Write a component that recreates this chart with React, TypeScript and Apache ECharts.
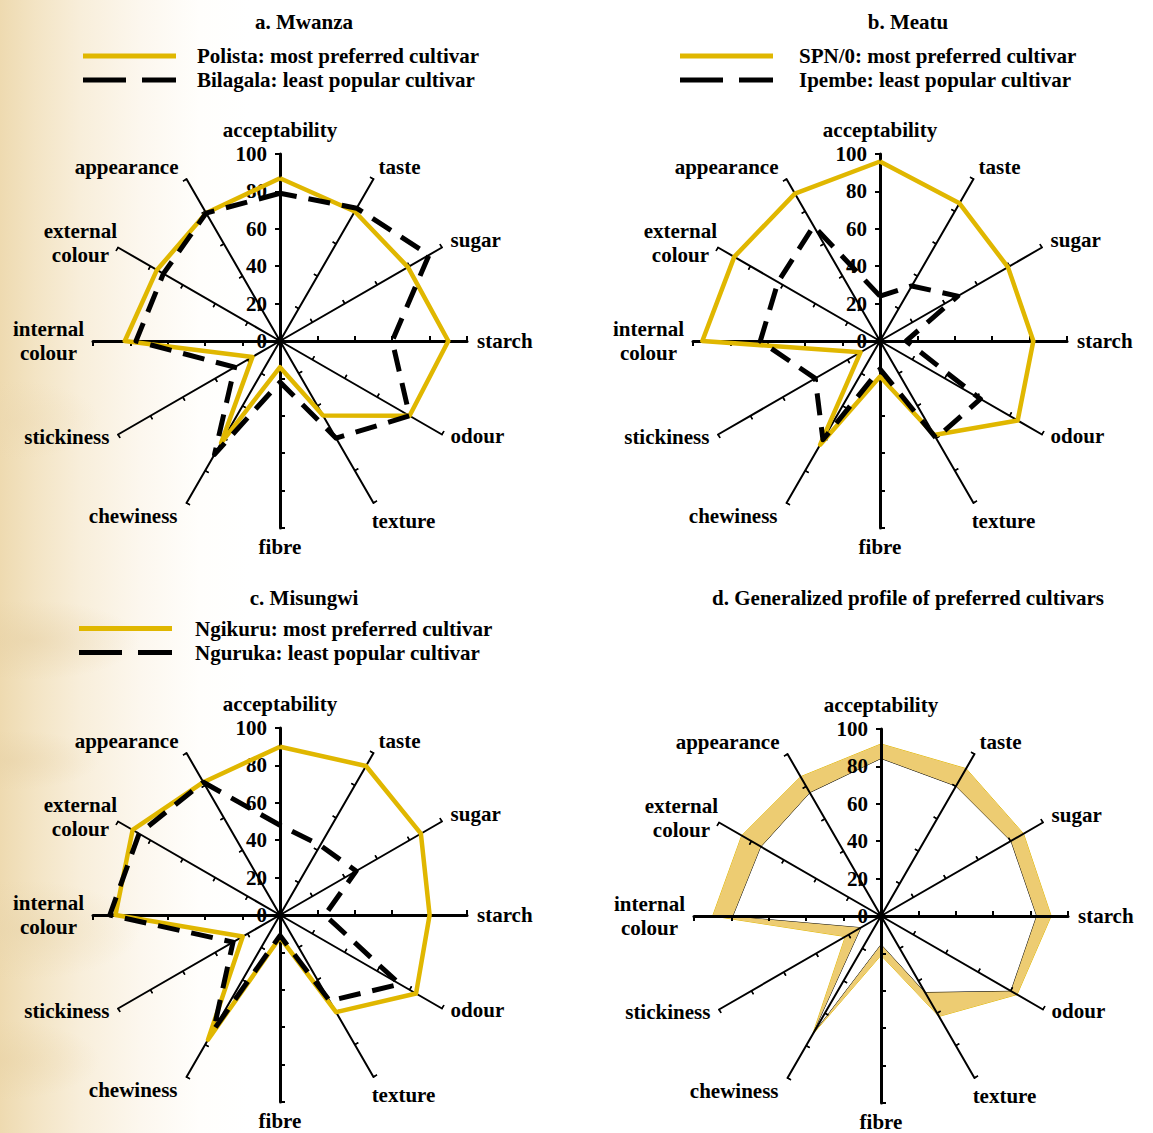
import React, { useEffect, useRef } from 'react';
import * as echarts from 'echarts';

// ---------- data ----------
// Axes listed clockwise starting at the top
const axisNames = [
  'acceptability', 'taste', 'sugar', 'starch', 'odour', 'texture', 'fibre',
  'chewiness', 'stickiness', 'internal\ncolour', 'external\ncolour', 'appearance',
];
const AXIS_MIN = 0;
const AXIS_MAX = 100;
const AXIS_SPLITS = 5; // ticks 0, 20, 40, 60, 80, 100

const panelTitles = [
  'a. Mwanza',
  'b. Meatu',
  'c. Misungwi',
  'd. Generalized profile of preferred cultivars',
];
const preferredNames = [
  'Polista: most preferred cultivar',
  'SPN/0: most preferred cultivar',
  'Ngikuru: most preferred cultivar',
];
const leastNames = [
  'Bilagala: least popular cultivar',
  'Ipembe: least popular cultivar',
  'Nguruka: least popular cultivar',
];

// values in clockwise axis order
const mwanzaPolista = [87, 80, 79, 90, 80, 46, 14, 63, 17, 83, 76, 79];
const mwanzaBilagala = [79, 82, 92, 60, 80, 60, 22, 70, 28, 77, 72, 79];
const meatuSpn0 = [96, 85, 79, 82, 85, 58, 19, 64, 12, 95, 90, 91];
const meatuIpembe = [24, 34, 48, 14, 62, 60, 15, 61, 40, 64, 63, 71];
const misungwiNgikuru = [90, 92, 87, 80, 84, 60, 12, 77, 23, 88, 91, 82];
const misungwiNguruka = [48, 43, 47, 24, 74, 53, 11, 71, 29, 91, 87, 82];
const generalUpper = [92, 91, 88, 91, 84, 62, 21, 73, 22, 90, 86, 86];
const generalLower = [84, 80, 80, 83, 80, 47, 15, 72, 12, 79, 74, 76];

// ---------- style / layout ----------
const SERIF = '"Liberation Serif", "Times New Roman", Times, serif';
const YELLOW = '#E0B700';
const BAND = '#EDCC72';
const R = 187;
const LH = 21;
const centers: [number, number][] = [[280, 341], [880, 341], [280, 915], [881, 916]];
const titleCenters: [number, number][] = [[304, 11], [908, 11], [304, 587], [908, 587]];
const legendPos: [number, number][] = [[83, 45.5], [680, 45.5], [79, 618]];
const legendTextPad = [16, 21, 18];

const SOLID_ICON = 'path://M0,0H93V5H0Z';
const DASH_ICON = 'path://M0,0H43V5H0Z M59,0H93V5H59Z';

const mainAxes = new Set(['acceptability', 'starch', 'fibre', 'internal\ncolour']);
const up = (d: number, right = 0) => ({ verticalAlign: 'bottom', padding: [0, right, d - LH / 2, 0] });
const down = (d: number, right = 0, left = 0) => ({ verticalAlign: 'top', padding: [d - LH / 2, right, 0, left] });
const nameAdjust: Record<string, any> = {
  acceptability: { padding: [0, 0, 3, 0] },
  taste: up(3),
  sugar: up(3),
  odour: up(4),
  texture: { align: 'center', ...down(9, 0, 50) },
  fibre: { padding: [-2, 0, 0, 0] },
  chewiness: down(4, 4),
  stickiness: up(3),
  'internal\ncolour': { align: 'center', lineHeight: 24, padding: [0, 69, 0, 0] },
  'external\ncolour': { align: 'center', lineHeight: 24, padding: [0, 58, 0, 0] },
  appearance: up(3, 3),
};

// ECharts places radar indicators counter-clockwise
function toCcw<T>(arr: T[]): T[] {
  return [arr[0], ...arr.slice(1).reverse()];
}

function buildIndicators(withLabels: boolean) {
  return toCcw(axisNames).map((name) => {
    const main = mainAxes.has(name);
    const ind: any = {
      name,
      min: AXIS_MIN,
      max: AXIS_MAX,
      axisLine: { lineStyle: { width: main ? 3 : 2 } },
      axisTick: { length: main ? 5 : 4, lineStyle: { width: main ? 2 : 1.4 } },
    };
    if (nameAdjust[name]) ind.nameTextStyle = nameAdjust[name];
    if (withLabels && name === 'acceptability') ind.axisLabel = { show: true };
    return ind;
  });
}

function buildRadar(center: [number, number], main: boolean, z: number) {
  return {
    center,
    radius: R,
    startAngle: 90,
    splitNumber: AXIS_SPLITS,
    shape: 'polygon',
    z,
    axisNameGap: 10,
    axisName: {
      show: main,
      color: '#000',
      fontFamily: SERIF,
      fontWeight: 'bold',
      fontSize: 21,
      lineHeight: LH,
    },
    splitLine: { show: false },
    splitArea: { show: false },
    axisLine: { show: main, lineStyle: { color: '#000', width: 2 } },
    axisTick: { show: true, inside: !main, length: 4, lineStyle: { color: '#000', width: 1.4 } },
    axisLabel: {
      show: false,
      margin: 13,
      color: '#000',
      fontFamily: SERIF,
      fontWeight: 'bold',
      fontSize: 21,
    },
    indicator: buildIndicators(main),
  };
}

function pairSeries(radarIndex: number, prefName: string, pref: number[], leastName: string, least: number[]) {
  return {
    type: 'radar',
    radarIndex,
    symbol: 'none',
    silent: true,
    z: 2,
    data: [
      {
        name: prefName,
        value: toCcw(pref),
        itemStyle: { color: YELLOW },
        lineStyle: { color: YELLOW, width: 4.5, type: 'solid' },
      },
      {
        name: leastName,
        value: toCcw(least),
        itemStyle: { color: '#000' },
        lineStyle: { color: '#000', width: 5, type: [22, 12] },
      },
    ],
  };
}

function buildOption() {
  const radars: any[] = [];
  centers.forEach((c, i) => {
    const z = i === 3 ? 3 : 1;
    radars.push(buildRadar(c, true, z));
    radars.push(buildRadar(c, false, z));
  });

  const series: any[] = [
    pairSeries(0, preferredNames[0], mwanzaPolista, leastNames[0], mwanzaBilagala),
    pairSeries(2, preferredNames[1], meatuSpn0, leastNames[1], meatuIpembe),
    pairSeries(4, preferredNames[2], misungwiNgikuru, leastNames[2], misungwiNguruka),
    {
      type: 'radar',
      radarIndex: 6,
      symbol: 'none',
      silent: true,
      z: 2,
      data: [
        {
          name: 'upper',
          value: toCcw(generalUpper),
          itemStyle: { color: YELLOW },
          lineStyle: { color: YELLOW, width: 1 },
          areaStyle: { color: BAND, opacity: 1 },
        },
        {
          name: 'lower',
          value: toCcw(generalLower),
          itemStyle: { color: '#000' },
          lineStyle: { color: '#000', width: 1 },
          areaStyle: { color: '#ffffff', opacity: 1 },
        },
      ],
    },
  ];

  const titles = panelTitles.map((t, i) => ({
    text: t,
    left: titleCenters[i][0],
    top: titleCenters[i][1],
    textAlign: 'center',
    padding: 0,
    textStyle: { fontFamily: SERIF, fontWeight: 'bold', fontSize: 21, color: '#000' },
  }));

  const legends = legendPos.map((p, i) => ({
    orient: 'vertical',
    left: p[0],
    top: p[1],
    padding: 0,
    itemWidth: 93,
    itemHeight: 5,
    itemGap: 3,
    selectedMode: false,
    itemStyle: { borderWidth: 0 },
    textStyle: {
      fontFamily: SERIF,
      fontWeight: 'bold',
      fontSize: 21,
      lineHeight: 21,
      color: '#000',
      padding: [0, 0, 0, legendTextPad[i]],
    },
    data: [
      { name: preferredNames[i], icon: SOLID_ICON, itemStyle: { color: YELLOW, borderWidth: 0 } },
      { name: leastNames[i], icon: DASH_ICON, itemStyle: { color: '#000', borderWidth: 0 } },
    ],
  }));

  return {
    animation: false,
    backgroundColor: 'transparent',
    title: titles,
    legend: legends,
    radar: radars,
    series,
  };
}

export default function App() {
  const ref = useRef<HTMLDivElement>(null);
  useEffect(() => {
    document.body.style.margin = '0';
    if (!ref.current) return;
    const chart = echarts.init(ref.current, undefined, { renderer: 'svg' });
    chart.setOption(buildOption() as any);
    return () => chart.dispose();
  }, []);

  const bg = [
    'radial-gradient(ellipse 110px 40px at 30px 640px, rgba(228,205,160,0.45), rgba(228,205,160,0))',
    'radial-gradient(ellipse 90px 30px at 10px 760px, rgba(230,208,165,0.45), rgba(230,208,165,0))',
    'radial-gradient(ellipse 120px 50px at 20px 930px, rgba(232,212,170,0.5), rgba(232,212,170,0))',
    'radial-gradient(ellipse 100px 40px at 0px 1060px, rgba(232,210,165,0.5), rgba(232,210,165,0))',
    'radial-gradient(ellipse 90px 40px at 10px 420px, rgba(235,215,175,0.4), rgba(235,215,175,0))',
    'linear-gradient(90deg, #EEDAB0 0px, #F3E4C4 35px, #F8EEDA 80px, #FCF7EE 140px, #FFFEFC 200px, #FFFFFF 250px)',
  ].join(', ');

  return (
    <div
      style={{
        position: 'absolute',
        left: 0,
        top: 0,
        width: 1153,
        height: 1133,
        background: bg,
      }}
    >
      <div ref={ref} style={{ width: 1153, height: 1133 }} />
    </div>
  );
}
